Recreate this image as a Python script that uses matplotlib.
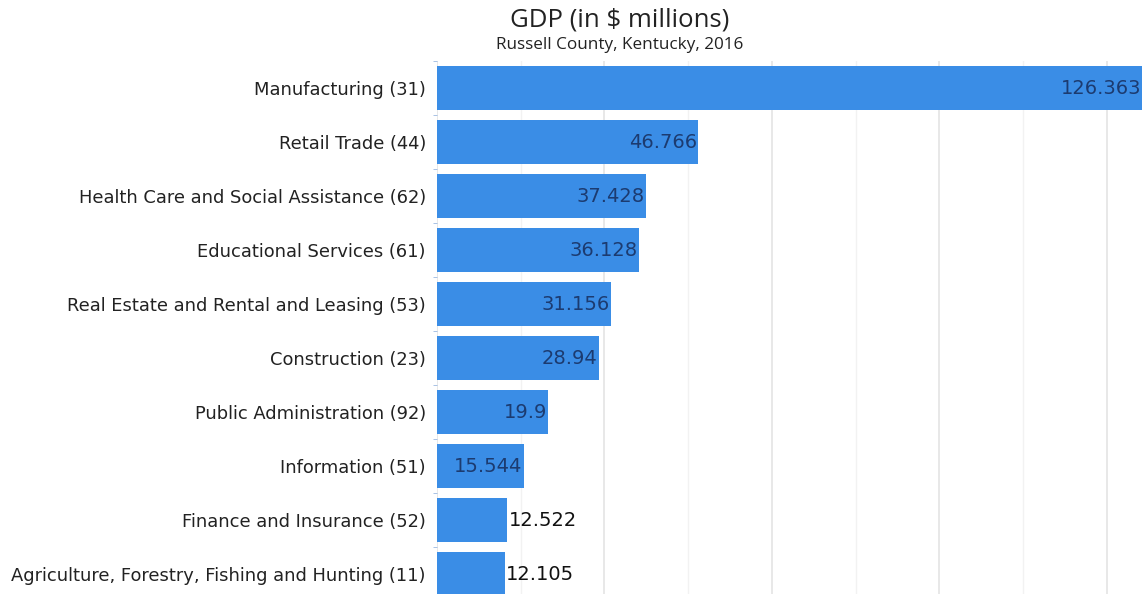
import matplotlib.pyplot as plt
from matplotlib.ticker import MultipleLocator

categories = [
    "Manufacturing (31)",
    "Retail Trade (44)",
    "Health Care and Social Assistance (62)",
    "Educational Services (61)",
    "Real Estate and Rental and Leasing (53)",
    "Construction (23)",
    "Public Administration (92)",
    "Information (51)",
    "Finance and Insurance (52)",
    "Agriculture, Forestry, Fishing and Hunting (11)",
]
gdp = [126.363, 46.766, 37.428, 36.128, 31.156, 28.94, 19.9, 15.544, 12.522, 12.105]
value_labels = ["126.363", "46.766", "37.428", "36.128", "31.156",
                "28.94", "19.9", "15.544", "12.522", "12.105"]

BAR_COLOR = "#3a8de6"
INSIDE_TEXT = "#1c3b70"

fig = plt.figure(figsize=(11.43, 5.94), dpi=100)
# axes spans past the bottom edge so the last bar gets cut off like the scan
ax = fig.add_axes([437 / 1143, -7 / 594, 706 / 1143, 540 / 594])

y = list(range(len(categories)))
ax.barh(y, gdp, height=0.8, color=BAR_COLOR, zorder=2)
ax.set_ylim(len(categories) - 0.5, -0.5)
ax.set_xlim(0, 126.5)

ax.set_yticks(y)
ax.set_yticklabels(categories, fontsize=12.9, color="#222222")
ax.tick_params(axis="y", length=0, pad=8)
ax.set_yticks([i + 0.5 for i in y[:-1]] + [-0.5], minor=True)
ax.tick_params(axis="y", which="minor", length=3, color="#9ab8e0")
ax.xaxis.set_major_locator(MultipleLocator(30))
ax.xaxis.set_minor_locator(MultipleLocator(15))
ax.tick_params(axis="x", which="both", length=0, labelbottom=False)
ax.grid(axis="x", which="major", color="#e4e4e4", linewidth=1.2, zorder=0)
ax.grid(axis="x", which="minor", color="#f2f2f2", linewidth=1.0, zorder=0)

for s in ax.spines.values():
    s.set_visible(False)

for i, (v, lab) in enumerate(zip(gdp, value_labels)):
    if v > 14:
        ax.text(v - 0.2, i, lab, ha="right", va="center",
                fontsize=14, color=INSIDE_TEXT, zorder=3)
    else:
        ax.text(v + 0.3, i, lab, ha="left", va="center",
                fontsize=14, color="#111111", zorder=3)

fig.text(0.5422, 0.966, "GDP (in $ millions)", ha="center", va="center",
         fontsize=18.5, color="#222222", family="Open Sans")
fig.text(0.5422, 0.925, "Russell County, Kentucky, 2016", ha="center", va="center",
         fontsize=12.3, color="#222222", family="Open Sans")

fig.savefig("out.png", dpi=100)
